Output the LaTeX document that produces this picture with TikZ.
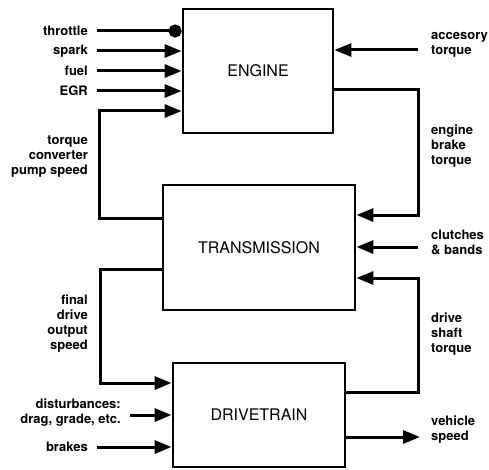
\documentclass[tikz,border=0pt]{standalone}
\usepackage{fontspec}
\setmainfont{TeX Gyre Heros}
\usetikzlibrary{arrows.meta, positioning, calc}

\begin{document}
\begin{tikzpicture}[x=1pt, y=-1pt,
    every node/.style={font=\fontsize{13}{15}\selectfont\bfseries, inner sep=0pt},
    blk/.style={draw, line width=2.8pt, font=\fontsize{16}{18}\selectfont},
    sig/.style={line width=3pt, -{Triangle[length=17pt, width=13pt]}},
    dotsig/.style={line width=3pt, -{Circle[length=13pt]}}]
    \useasboundingbox (0,0) rectangle (489,470);

    % Blocks
    \node[blk, minimum width=150pt, minimum height=124pt] (eng) at (258,71) {ENGINE};
    \node[blk, minimum width=192pt, minimum height=125pt] (trn) at (259,247.5) {TRANSMISSION};
    \node[blk, minimum width=172pt, minimum height=104pt] (drv) at (259,415) {DRIVETRAIN};

    % Engine inputs
    \coordinate (thr) at (97,31);
    \coordinate (spk) at (97,51);
    \coordinate (ful) at (97,71);
    \coordinate (egr) at (97,91);
    \coordinate (acc) at (418,50);
    \node[anchor=east] (thrl) at (88,31) {throttle};
    \node[anchor=east] (spkl) at (88,51) {spark};
    \node[anchor=east] (full) at (88,71) {fuel};
    \node[anchor=east] (egrl) at (88,91) {EGR};
    \node[anchor=west, align=left] (accl) at (431,45) {accesory\\torque};
    \draw[dotsig] (thr) -- (eng.west |- thr);
    \draw[sig] (spk) -- (eng.west |- spk);
    \draw[sig] (ful) -- (eng.west |- ful);
    \draw[sig] (egr) -- (eng.west |- egr);
    \draw[sig] (acc) -- (eng.east |- acc);

    % Engine <-> transmission
    \coordinate (pmp1) at (99,218);
    \coordinate (pmp2) at (99,111);
    \coordinate (ebk1) at (418,90);
    \coordinate (ebk2) at (418,215);
    \node[anchor=east, align=right] (pmpl) at (88,157) {torque\\converter\\pump speed};
    \node[anchor=west, align=left] (ebkl) at (431,146) {engine\\brake\\torque};
    \draw[sig] (trn.west |- pmp1) -- (pmp1) -- (pmp2) -- (eng.west |- pmp2);
    \draw[sig] (eng.east |- ebk1) -- (ebk1) -- (ebk2) -- (trn.east |- ebk2);

    % Transmission input
    \coordinate (clb) at (418,247);
    \node[anchor=west, align=left] (clbl) at (431,242.5) {clutches\\\& bands};
    \draw[sig] (clb) -- (trn.east |- clb);

    % Transmission <-> drivetrain
    \coordinate (fdo1) at (100,269);
    \coordinate (fdo2) at (100,383);
    \coordinate (dsh1) at (418,392);
    \coordinate (dsh2) at (418,278);
    \node[anchor=east, align=right] (fdol) at (88,324) {final\\drive\\output\\speed};
    \node[anchor=west, align=left] (dshl) at (431,334) {drive\\shaft\\torque};
    \draw[sig] (trn.west |- fdo1) -- (fdo1) -- (fdo2) -- (drv.west |- fdo2);
    \draw[sig] (drv.east |- dsh1) -- (dsh1) -- (dsh2) -- (trn.east |- dsh2);

    % Drivetrain inputs and output
    \coordinate (dst) at (130,415);
    \coordinate (brk) at (97,447);
    \coordinate (vsp) at (420,437);
    \node[anchor=east, align=right] (dstl) at (121,413) {disturbances:\\drag, grade, etc.};
    \node[anchor=east] (brkl) at (88,447) {brakes};
    \node[anchor=west, align=left] (vspl) at (431,430) {vehicle\\speed};
    \draw[sig] (dst) -- (drv.west |- dst);
    \draw[sig] (brk) -- (drv.west |- brk);
    \draw[sig] (drv.east |- vsp) -- (vsp);
\end{tikzpicture}
\end{document}
